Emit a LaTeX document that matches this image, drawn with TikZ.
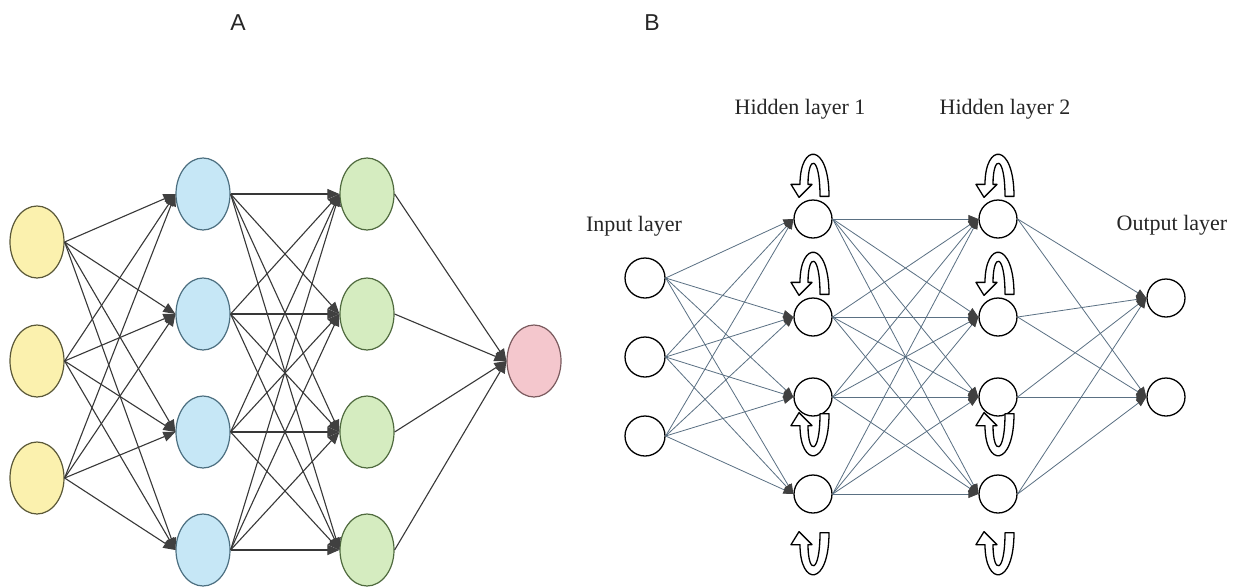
\documentclass[tikz,border=0pt]{standalone}
\usepackage{fontspec}
\setmainfont{Liberation Serif}
\newfontfamily\panelfont{Liberation Sans}
\usetikzlibrary{arrows.meta,shapes.geometric}

\definecolor{yfill}{HTML}{FBF1AE}
\definecolor{yline}{HTML}{5A5838}
\definecolor{bfill}{HTML}{C6E7F6}
\definecolor{bline}{HTML}{4C6F80}
\definecolor{gfill}{HTML}{D5ECC0}
\definecolor{gline}{HTML}{4F6A3E}
\definecolor{pfill}{HTML}{F4C7CD}
\definecolor{pline}{HTML}{7A5A5E}
\definecolor{edgeAcol}{HTML}{383838}
\definecolor{edgeBcol}{HTML}{5A7083}
\definecolor{tipcol}{HTML}{404040}

\tikzset{
  neuA/.style={ellipse, draw, line width=1.2pt, minimum width=54pt, minimum height=72pt, inner sep=0pt},
  neuB/.style={circle, draw=black, fill=white, line width=1.3pt, minimum size=38pt, inner sep=0pt},
  edgeA/.style={draw=edgeAcol, line width=1.1pt, -{Triangle[length=12pt,width=10pt,color=tipcol,fill=tipcol]}},
  edgeB/.style={draw=edgeBcol, line width=0.8pt, -{Triangle[length=10pt,width=8pt,color=tipcol,fill=tipcol]}},
  panellab/.style={font=\panelfont\fontsize{23}{23}\selectfont, text=black!85, anchor=base},
  layerlab/.style={font=\fontsize{22}{22}\selectfont, text=black!85, anchor=base},
  % hollow U-turn arrow: right leg ends flat, left leg ends in a head
  uturn/.pic={
    \draw[line width=1.3pt, fill=white, line join=round]
      (7,-3) -- (16,-3) .. controls (16,-57) and (-13,-57) .. (-13,-15)
      -- (-22,-15) -- (-14,-2) -- (-1,-15) -- (-5,-15)
      .. controls (-5,-45) and (7,-45) .. (7,-3) -- cycle;
  }
}

\begin{document}
\begin{tikzpicture}[x=1pt,y=-1pt]
\useasboundingbox[fill=white] (0,0) rectangle (1243,587);

% ---------------- panel A ----------------
\node[panellab] (labA) at (238,30) {A};

\node[neuA, fill=yfill, draw=yline] (y1) at (37,242) {};
\node[neuA, fill=yfill, draw=yline] (y2) at (37,361) {};
\node[neuA, fill=yfill, draw=yline] (y3) at (37,478) {};

\foreach \i/\yy in {1/194,2/314,3/432,4/550} {
  \node[neuA, fill=bfill, draw=bline] (b\i) at (203,\yy) {};
  \node[neuA, fill=gfill, draw=gline] (g\i) at (367,\yy) {};
}
\node[neuA, fill=pfill, draw=pline] (p1) at (534,361) {};

\foreach \s in {y1,y2,y3}
  \foreach \t in {b1,b2,b3,b4}
    \draw[edgeA] (\s.east) -- (\t.west);
\foreach \s in {b1,b2,b3,b4}
  \foreach \t in {g1,g2,g3,g4}
    \draw[edgeA] (\s.east) -- (\t.west);
\foreach \s in {g1,g2,g3,g4}
  \draw[edgeA] (\s.east) -- (p1.west);

% ---------------- panel B ----------------
\node[panellab] (labB) at (652,30) {B};

\node[layerlab] (tin)  at (634,231) {Input layer};
\node[layerlab] (th1)  at (800,114) {Hidden layer 1};
\node[layerlab] (th2)  at (1005,114) {Hidden layer 2};
\node[layerlab] (tout) at (1172,230) {Output layer};

\node[neuB, minimum size=40pt] (i1) at (645,278) {};
\node[neuB, minimum size=40pt] (i2) at (645,357) {};
\node[neuB, minimum size=40pt] (i3) at (645,436) {};

\foreach \i/\yy in {1/219,2/317,3/397,4/494} {
  \node[neuB] (h\i) at (813,\yy) {};
  \node[neuB] (k\i) at (998,\yy) {};
}
\node[neuB] (o1) at (1166,298) {};
\node[neuB] (o2) at (1166,397) {};

\foreach \s in {i1,i2,i3}
  \foreach \t in {h1,h2,h3,h4}
    \draw[edgeB] (\s.east) -- (\t.west);
\foreach \s in {h1,h2,h3,h4}
  \foreach \t in {k1,k2,k3,k4}
    \draw[edgeB] (\s.east) -- (\t.west);
\foreach \s in {k1,k2,k3,k4}
  \foreach \t in {o1,o2}
    \draw[edgeB] (\s.east) -- (\t.west);

% self-recurrent loops of the hidden neurons
\foreach \n in {h1,h2,k1,k2}
  \pic at (\n.north) {uturn};
\foreach \n in {h3,k3}
  \pic[yscale=-1] at ([yshift=6pt]\n.south) {uturn};
\foreach \n in {h4,k4}
  \pic[yscale=-1] at ([yshift=-16pt]\n.south) {uturn};

\end{tikzpicture}
\end{document}
